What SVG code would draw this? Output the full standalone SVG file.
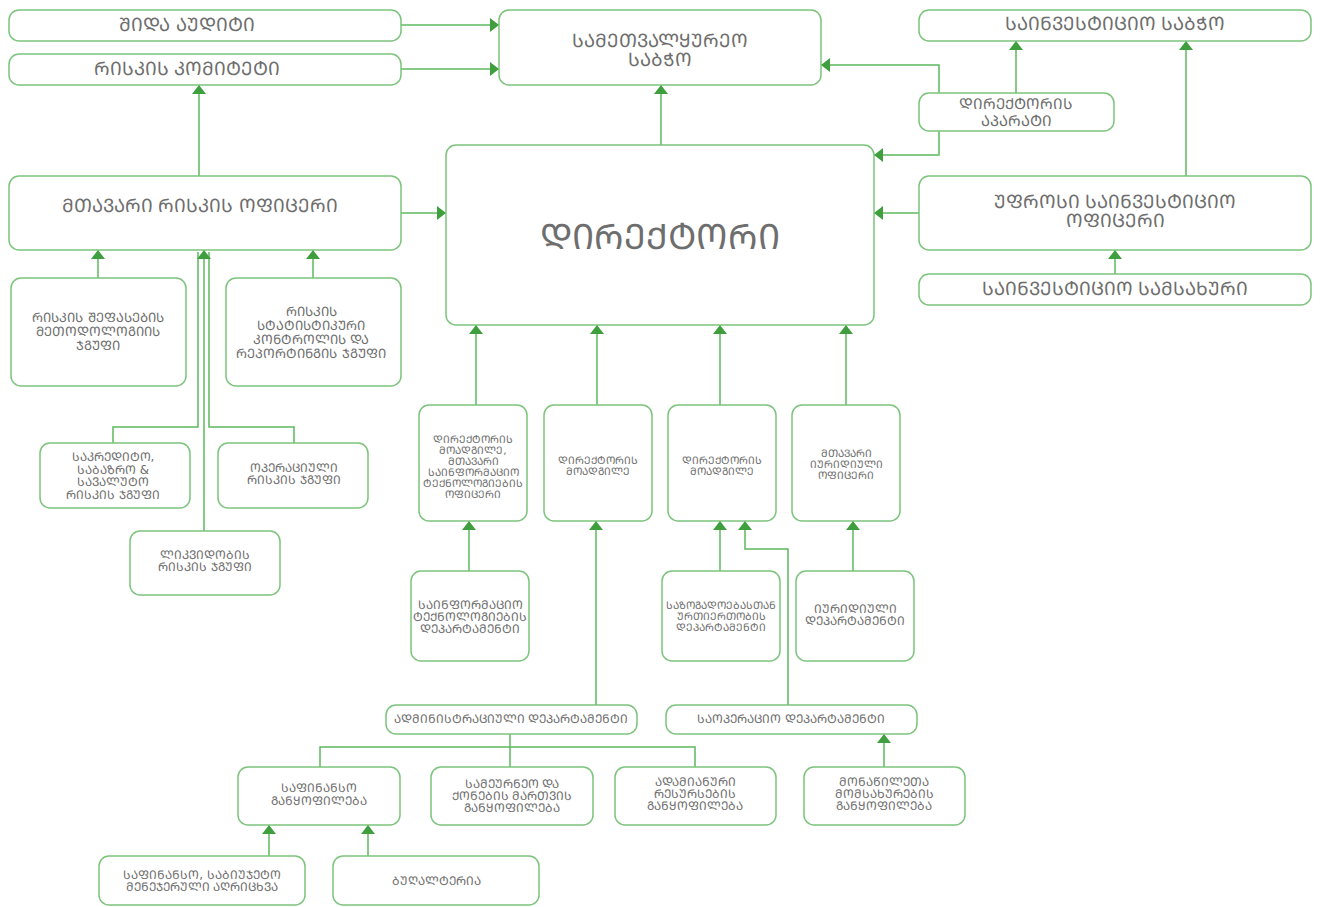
<svg xmlns="http://www.w3.org/2000/svg" width="1323" height="907" viewBox="0 0 1323 907">
<style>
.box{fill:#fff;stroke:#7cc47c;stroke-width:1.5}
.c{fill:none;stroke:#5cb85c;stroke-width:1.5}
text{font-family:"DejaVu Sans","Noto Sans",sans-serif;fill:#6e6e6e;text-anchor:middle;dominant-baseline:central}
.f17{font-size:18.5px}
.f15{font-size:15px}
.f13{font-size:13px}
.f12{font-size:12px}
.f10{font-size:10.5px}
</style>
<defs>
<marker id="a" viewBox="0 0 9 14" markerWidth="9" markerHeight="14" refX="9" refY="7" orient="auto" markerUnits="userSpaceOnUse"><path d="M0,0 L9,7 L0,14 z" fill="#3f9f3f"/></marker>
</defs>
<g id="connectors">
<path class="c" d="M401,25 H499" marker-end="url(#a)"/>
<path class="c" d="M401,69 H499" marker-end="url(#a)"/>
<path class="c" d="M199,176 V85" marker-end="url(#a)"/>
<path class="c" d="M661,145 V85" marker-end="url(#a)"/>
<path class="c" d="M939,93 V65 H821" marker-end="url(#a)"/>
<path class="c" d="M939,131 V155 H874" marker-end="url(#a)"/>
<path class="c" d="M1016,93 V41" marker-end="url(#a)"/>
<path class="c" d="M1186,176 V41" marker-end="url(#a)"/>
<path class="c" d="M919,213 H874" marker-end="url(#a)"/>
<path class="c" d="M1115,274 V250" marker-end="url(#a)"/>
<path class="c" d="M401,213 H446" marker-end="url(#a)"/>
<path class="c" d="M98,278 V250" marker-end="url(#a)"/>
<path class="c" d="M313,278 V250" marker-end="url(#a)"/>
<path class="c" d="M113,443 V427 H198 V252"/>
<path class="c" d="M294,443 V427 H209 V252"/>
<path class="c" d="M204,531 V250" marker-end="url(#a)"/>
<path class="c" d="M476,405 V325" marker-end="url(#a)"/>
<path class="c" d="M597,405 V325" marker-end="url(#a)"/>
<path class="c" d="M720,405 V325" marker-end="url(#a)"/>
<path class="c" d="M846,405 V325" marker-end="url(#a)"/>
<path class="c" d="M469,571 V521" marker-end="url(#a)"/>
<path class="c" d="M596,705 V521" marker-end="url(#a)"/>
<path class="c" d="M720,571 V521" marker-end="url(#a)"/>
<path class="c" d="M788,705 V549 H745 V521" marker-end="url(#a)"/>
<path class="c" d="M853,571 V521" marker-end="url(#a)"/>
<path class="c" d="M510,734 V747 M320,767 V747 H695 V767 M510,747 V767"/>
<path class="c" d="M884,767 V734" marker-end="url(#a)"/>
<path class="c" d="M269,856 V825" marker-end="url(#a)"/>
<path class="c" d="M368,856 V825" marker-end="url(#a)"/>
</g>
<g id="n1"><rect class="box" x="9" y="10" width="392" height="31" rx="10"/><text class="f17" x="187" y="24">ᲨᲘᲓᲐ ᲐᲣᲓᲘᲢᲘ</text></g>
<g id="n2"><rect class="box" x="9" y="54" width="392" height="31" rx="10"/><text class="f17" x="187" y="68">ᲠᲘᲡᲙᲘᲡ ᲙᲝᲛᲘᲢᲔᲢᲘ</text></g>
<g id="n3"><rect class="box" x="499" y="10" width="322" height="75" rx="10"/><text class="f17" x="660" y="40">ᲡᲐᲛᲔᲗᲕᲐᲚᲧᲣᲠᲔᲝ</text><text class="f17" x="660" y="59">ᲡᲐᲑᲭᲝ</text></g>
<g id="n4"><rect class="box" x="919" y="10" width="392" height="31" rx="10"/><text class="f17" x="1115" y="23">ᲡᲐᲘᲜᲕᲔᲡᲢᲘᲪᲘᲝ ᲡᲐᲑᲭᲝ</text></g>
<g id="n5"><rect class="box" x="919" y="93" width="195" height="38" rx="10"/><text class="f15" x="1016" y="104">ᲓᲘᲠᲔᲥᲢᲝᲠᲘᲡ</text><text class="f15" x="1016" y="120.5">ᲐᲞᲐᲠᲐᲢᲘ</text></g>
<g id="n6"><rect class="box" x="9" y="176" width="392" height="74" rx="10"/><text class="f17" x="200" y="205">ᲛᲗᲐᲕᲐᲠᲘ ᲠᲘᲡᲙᲘᲡ ᲝᲤᲘᲪᲔᲠᲘ</text></g>
<g id="n7"><rect class="box" x="446" y="145" width="428" height="180" rx="10"/><text x="660" y="237" style="font-size:35px">ᲓᲘᲠᲔᲥᲢᲝᲠᲘ</text></g>
<g id="n8"><rect class="box" x="919" y="176" width="392" height="74" rx="10"/><text class="f17" x="1115" y="201">ᲣᲤᲠᲝᲡᲘ ᲡᲐᲘᲜᲕᲔᲡᲢᲘᲪᲘᲝ</text><text class="f17" x="1115" y="220">ᲝᲤᲘᲪᲔᲠᲘ</text></g>
<g id="n9"><rect class="box" x="919" y="274" width="392" height="31" rx="10"/><text class="f17" x="1115" y="288">ᲡᲐᲘᲜᲕᲔᲡᲢᲘᲪᲘᲝ ᲡᲐᲛᲡᲐᲮᲣᲠᲘ</text></g>
<g id="n10"><rect class="box" x="11" y="278" width="175" height="108" rx="10"/><text class="f13" x="98" y="317">ᲠᲘᲡᲙᲘᲡ ᲨᲔᲤᲐᲡᲔᲑᲘᲡ</text><text class="f13" x="98" y="331">ᲛᲔᲗᲝᲓᲝᲚᲝᲒᲘᲘᲡ</text><text class="f13" x="98" y="345">ᲯᲒᲣᲤᲘ</text></g>
<g id="n11"><rect class="box" x="226" y="278" width="175" height="108" rx="10"/><text class="f13" x="311" y="311">ᲠᲘᲡᲙᲘᲡ</text><text class="f13" x="311" y="325">ᲡᲢᲐᲢᲘᲡᲢᲘᲙᲣᲠᲘ</text><text class="f13" x="311" y="339">ᲙᲝᲜᲢᲠᲝᲚᲘᲡ ᲓᲐ</text><text class="f13" x="311" y="353">ᲠᲔᲞᲝᲠᲢᲘᲜᲒᲘᲡ ᲯᲒᲣᲤᲘ</text></g>
<g id="n12"><rect class="box" x="40" y="443" width="150" height="65" rx="10"/><text class="f12" x="113" y="457">ᲡᲐᲙᲠᲔᲓᲘᲢᲝ,</text><text class="f12" x="113" y="469.5">ᲡᲐᲑᲐᲖᲠᲝ &amp;</text><text class="f12" x="113" y="482">ᲡᲐᲕᲐᲚᲣᲢᲝ</text><text class="f12" x="113" y="494.5">ᲠᲘᲡᲙᲘᲡ ᲯᲒᲣᲤᲘ</text></g>
<g id="n13"><rect class="box" x="218" y="443" width="150" height="65" rx="10"/><text class="f12" x="294" y="468">ᲝᲞᲔᲠᲐᲪᲘᲣᲚᲘ</text><text class="f12" x="294" y="480">ᲠᲘᲡᲙᲘᲡ ᲯᲒᲣᲤᲘ</text></g>
<g id="n14"><rect class="box" x="130" y="531" width="150" height="64" rx="10"/><text class="f12" x="205" y="555">ᲚᲘᲙᲕᲘᲓᲝᲑᲘᲡ</text><text class="f12" x="205" y="567">ᲠᲘᲡᲙᲘᲡ ᲯᲒᲣᲤᲘ</text></g>
<g id="n15"><rect class="box" x="419" y="405" width="108" height="116" rx="10"/><text class="f10" x="473" y="439">ᲓᲘᲠᲔᲥᲢᲝᲠᲘᲡ</text><text class="f10" x="473" y="450">ᲛᲝᲐᲓᲒᲘᲚᲔ,</text><text class="f10" x="473" y="461">ᲛᲗᲐᲕᲐᲠᲘ</text><text class="f10" x="473" y="472">ᲡᲐᲘᲜᲤᲝᲠᲛᲐᲪᲘᲝ</text><text class="f10" x="473" y="483">ᲢᲔᲥᲜᲝᲚᲝᲒᲘᲔᲑᲘᲡ</text><text class="f10" x="473" y="494">ᲝᲤᲘᲪᲔᲠᲘ</text></g>
<g id="n16"><rect class="box" x="544" y="405" width="108" height="116" rx="10"/><text class="f10" x="598" y="460">ᲓᲘᲠᲔᲥᲢᲝᲠᲘᲡ</text><text class="f10" x="598" y="471">ᲛᲝᲐᲓᲒᲘᲚᲔ</text></g>
<g id="n17"><rect class="box" x="668" y="405" width="108" height="116" rx="10"/><text class="f10" x="722" y="460">ᲓᲘᲠᲔᲥᲢᲝᲠᲘᲡ</text><text class="f10" x="722" y="471">ᲛᲝᲐᲓᲒᲘᲚᲔ</text></g>
<g id="n18"><rect class="box" x="792" y="405" width="108" height="116" rx="10"/><text class="f10" x="846" y="453">ᲛᲗᲐᲕᲐᲠᲘ</text><text class="f10" x="846" y="464">ᲘᲣᲠᲘᲓᲘᲣᲚᲘ</text><text class="f10" x="846" y="475">ᲝᲤᲘᲪᲔᲠᲘ</text></g>
<g id="n19"><rect class="box" x="411" y="571" width="118" height="90" rx="10"/><text class="f12" x="470" y="605">ᲡᲐᲘᲜᲤᲝᲠᲛᲐᲪᲘᲝ</text><text class="f12" x="470" y="617">ᲢᲔᲥᲜᲝᲚᲝᲒᲘᲔᲑᲘᲡ</text><text class="f12" x="470" y="629">ᲓᲔᲞᲐᲠᲢᲐᲛᲔᲜᲢᲘ</text></g>
<g id="n20"><rect class="box" x="662" y="571" width="118" height="90" rx="10"/><text class="f10" x="721" y="605">ᲡᲐᲖᲝᲒᲐᲓᲝᲔᲑᲐᲡᲗᲐᲜ</text><text class="f10" x="721" y="616">ᲣᲠᲗᲘᲔᲠᲗᲝᲑᲘᲡ</text><text class="f10" x="721" y="627">ᲓᲔᲞᲐᲠᲢᲐᲛᲔᲜᲢᲘ</text></g>
<g id="n21"><rect class="box" x="796" y="571" width="118" height="90" rx="10"/><text class="f12" x="855" y="609">ᲘᲣᲠᲘᲓᲘᲣᲚᲘ</text><text class="f12" x="855" y="621">ᲓᲔᲞᲐᲠᲢᲐᲛᲔᲜᲢᲘ</text></g>
<g id="n22"><rect class="box" x="386" y="705" width="251" height="29" rx="10"/><text class="f12" x="511" y="719">ᲐᲓᲛᲘᲜᲘᲡᲢᲠᲐᲪᲘᲣᲚᲘ ᲓᲔᲞᲐᲠᲢᲐᲛᲔᲜᲢᲘ</text></g>
<g id="n23"><rect class="box" x="666" y="705" width="251" height="29" rx="10"/><text class="f12" x="791" y="719">ᲡᲐᲝᲞᲔᲠᲐᲪᲘᲝ ᲓᲔᲞᲐᲠᲢᲐᲛᲔᲜᲢᲘ</text></g>
<g id="n24"><rect class="box" x="238" y="767" width="162" height="58" rx="10"/><text class="f12" x="319" y="788">ᲡᲐᲤᲘᲜᲐᲜᲡᲝ</text><text class="f12" x="319" y="801">ᲒᲐᲜᲧᲝᲤᲘᲚᲔᲑᲐ</text></g>
<g id="n25"><rect class="box" x="431" y="767" width="162" height="58" rx="10"/><text class="f12" x="512" y="784">ᲡᲐᲛᲔᲣᲠᲜᲔᲝ ᲓᲐ</text><text class="f12" x="512" y="796">ᲥᲝᲜᲔᲑᲘᲡ ᲛᲐᲠᲗᲕᲘᲡ</text><text class="f12" x="512" y="808">ᲒᲐᲜᲧᲝᲤᲘᲚᲔᲑᲐ</text></g>
<g id="n26"><rect class="box" x="615" y="767" width="161" height="58" rx="10"/><text class="f12" x="695" y="782">ᲐᲓᲐᲛᲘᲐᲜᲣᲠᲘ</text><text class="f12" x="695" y="794">ᲠᲔᲡᲣᲠᲡᲔᲑᲘᲡ</text><text class="f12" x="695" y="806">ᲒᲐᲜᲧᲝᲤᲘᲚᲔᲑᲐ</text></g>
<g id="n27"><rect class="box" x="804" y="767" width="161" height="58" rx="10"/><text class="f12" x="884" y="782">ᲛᲝᲜᲐᲬᲘᲚᲔᲗᲐ</text><text class="f12" x="884" y="794">ᲛᲝᲛᲡᲐᲮᲣᲠᲔᲑᲘᲡ</text><text class="f12" x="884" y="806">ᲒᲐᲜᲧᲝᲤᲘᲚᲔᲑᲐ</text></g>
<g id="n28"><rect class="box" x="99" y="856" width="206" height="49" rx="10"/><text class="f12" x="202" y="875">ᲡᲐᲤᲘᲜᲐᲜᲡᲝ, ᲡᲐᲑᲘᲣᲯᲔᲢᲝ</text><text class="f12" x="202" y="887">ᲛᲔᲜᲔᲯᲔᲠᲣᲚᲘ ᲐᲦᲠᲘᲪᲮᲕᲐ</text></g>
<g id="n29"><rect class="box" x="333" y="856" width="206" height="49" rx="10"/><text class="f12" x="436" y="881">ᲑᲣᲦᲐᲚᲢᲔᲠᲘᲐ</text></g>
</svg>
